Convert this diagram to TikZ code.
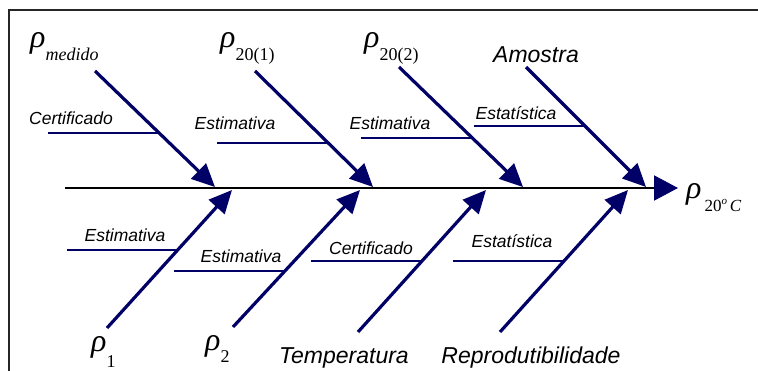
\documentclass[tikz,border=0pt]{standalone}
\usepackage{fontspec}
\setmainfont{Liberation Serif}
\newfontfamily\arialfont{Liberation Sans}
\usetikzlibrary{arrows.meta,calc}

\definecolor{navy}{RGB}{0,0,102}
\newcommand{\bigrho}{{\fontsize{32}{34}\selectfont\itshape ρ}}
\newcommand{\rhosub}[2]{\bigrho\raisebox{-#1}{\fontsize{18}{20}\selectfont #2}}

\tikzset{
  frame/.style={line width=2pt, black!85},
  spine/.style={line width=2pt, -{Triangle[length=24pt,width=25pt,color=navy]}},
  cause/.style={navy, line width=3.2pt, -{Triangle[length=23pt,width=21pt]}},
  branch/.style={navy, line width=2.5pt},
  origem/.style={font=\arialfont\itshape\fontsize{17.5}{20}\selectfont, inner sep=0pt, anchor=base},
  causa/.style={font=\arialfont\itshape\fontsize{23}{26}\selectfont, inner sep=0pt, anchor=base},
  qty/.style={inner sep=0pt, anchor=base west},
}

\begin{document}
\begin{tikzpicture}[x=1pt,y=-1pt]
\useasboundingbox (0,0) rectangle (758,371);
\draw[frame] (9,371) -- (9,10) -- (758,10);

% heads of the bones
\node[qty] (medido) at (30,48) {\rhosub{13pt}{\itshape medido}};
\node[qty] (rhoa) at (220,48) {\rhosub{13pt}{20(1)}};
\node[qty] (rhob) at (364,48) {\rhosub{13pt}{20(2)}};
\node[causa] (amostra) at (536,63) {Amostra};
\node[qty] (rhoum) at (91,352) {\rhosub{16pt}{1}};
\node[qty] (rhodois) at (205,351) {\rhosub{12pt}{2}};
\node[causa] (temp) at (344,364) {Temperatura};
\node[causa] (repro) at (531,364) {Reprodutibilidade};
\node[qty] (result) at (686,199) {\bigrho\hspace{3pt}\raisebox{-13pt}{\fontsize{17}{19}\selectfont 20\raisebox{7pt}{\fontsize{11}{12}\selectfont\itshape o}\,\itshape C}};

% spine
\coordinate (tail) at (65,188);
\draw[spine] (tail) -- ([xshift=-8pt]tail -| result.west);

% bones
\foreach \n/\a/\b in {1/95/71, 2/255/71, 3/399/67, 4/526/67, 5/107/328, 6/233/327, 7/358/332, 8/500/332}
  \coordinate (s\n) at (\a,\b);
\foreach \n/\a/\b in {1/215/187, 2/373/187, 3/523/187, 4/646/187, 5/232/190, 6/360/190, 7/486/190, 8/628/190}
  \coordinate (t\n) at (\a,\b);

\foreach \n/\f in {1/0.534, 2/0.62, 3/0.59, 4/0.49, 5/0.565, 6/0.41, 7/0.5, 8/0.5}
  \draw[branch] ($(s\n)!\f!(t\n)$) -- ++(-111,0);
\foreach \n in {1,...,8}
  \draw[cause] (s\n) -- (t\n);

% sources
\node[origem] (cert1) at (71,125) {Certificado};
\node[origem] (est1) at (235,130) {Estimativa};
\node[origem] (est2) at (390,130) {Estimativa};
\node[origem] (stat1) at (516,120) {Estatística};
\node[origem] (est3) at (125,242) {Estimativa};
\node[origem] (est4) at (241,263) {Estimativa};
\node[origem] (cert2) at (371,255) {Certificado};
\node[origem] (stat2) at (512,248) {Estatística};
\end{tikzpicture}
\end{document}
